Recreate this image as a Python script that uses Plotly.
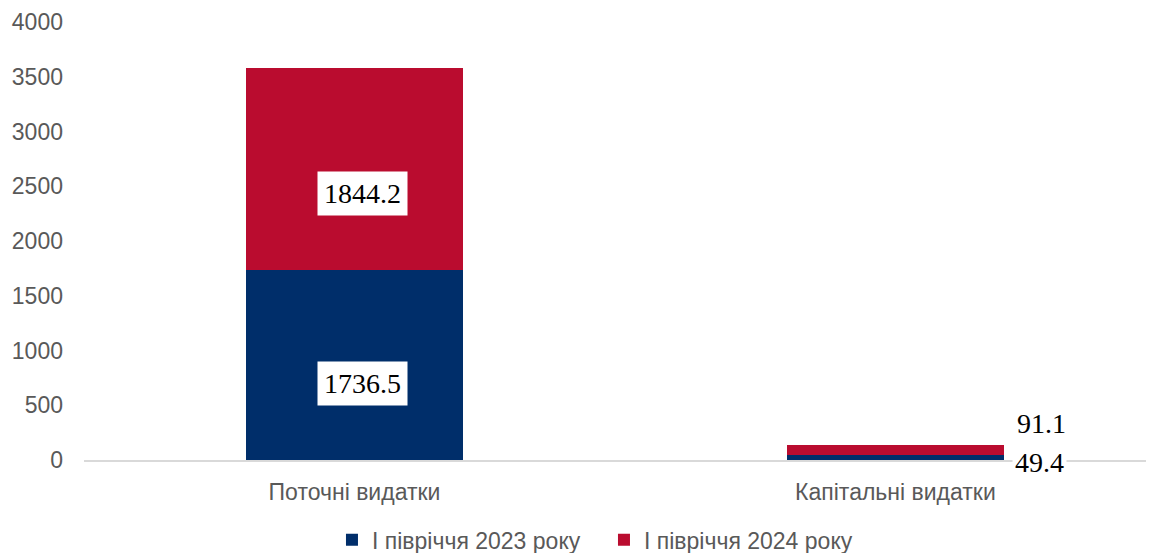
import plotly.graph_objects as go

categories = ["Поточні видатки", "Капітальні видатки"]
series_names = ["І півріччя 2023 року", "І півріччя 2024 року"]
values_2023 = [1736.5, 49.4]
values_2024 = [1844.2, 91.1]
colors = ["#002E6A", "#BA0C2F"]
y_ticks = [0, 500, 1000, 1500, 2000, 2500, 3000, 3500, 4000]

fig = go.Figure()
for name, vals, col in zip(series_names, [values_2023, values_2024], colors):
    fig.add_trace(go.Bar(x=categories, y=vals, name=name, marker_color=col,
                         marker_line_width=0, width=0.4))

label_font = dict(family="Liberation Serif, DejaVu Serif, serif", size=28, color="#000000")
# Labels for the first (large) category: inside boxes
fig.add_annotation(x=categories[0], y=values_2023[0] * 0.40, text=f"{values_2023[0]:.1f}",
                   showarrow=False, bgcolor="white", borderpad=6, font=label_font, xshift=8)
fig.add_annotation(x=categories[0], y=values_2023[0] + values_2024[0] * 0.38, text=f"{values_2024[0]:.1f}",
                   showarrow=False, bgcolor="white", borderpad=6, font=label_font, xshift=8)
# Labels for the small category: to the right
fig.add_annotation(x=categories[1], y=0, text=f"{values_2023[1]:.1f}", showarrow=False,
                   font=label_font, xshift=144, yshift=-2, bgcolor="white", borderpad=2)
fig.add_annotation(x=categories[1], y=0, text=f"{values_2024[1]:.1f}", showarrow=False,
                   font=label_font, xshift=146, yshift=37)

fig.update_layout(
    barmode="stack",
    width=1146, height=545,
    margin=dict(l=76, r=0, t=14, b=93),
    paper_bgcolor="white", plot_bgcolor="white",
    font=dict(family="Liberation Sans, Arial, sans-serif", size=23, color="#595959"),
    showlegend=True,
    legend=dict(orientation="h", xref="container", yref="container", x=0.2827, y=0.024,
                xanchor="left", yanchor="middle", font=dict(size=23, color="#595959"),
                itemwidth=30, traceorder="normal", entrywidth=227, entrywidthmode="pixels"),
    xaxis=dict(range=[-0.5, 1.478], showline=True, linecolor="#D9D9D9", linewidth=1.5,
               showgrid=False, ticks="", ticklabelstandoff=11, zeroline=False),
    yaxis=dict(range=[0, 4000], tickvals=y_ticks, showgrid=False, zeroline=False,
               showline=False, ticks="", ticklabelstandoff=20),
)

fig.write_html("out.html")
